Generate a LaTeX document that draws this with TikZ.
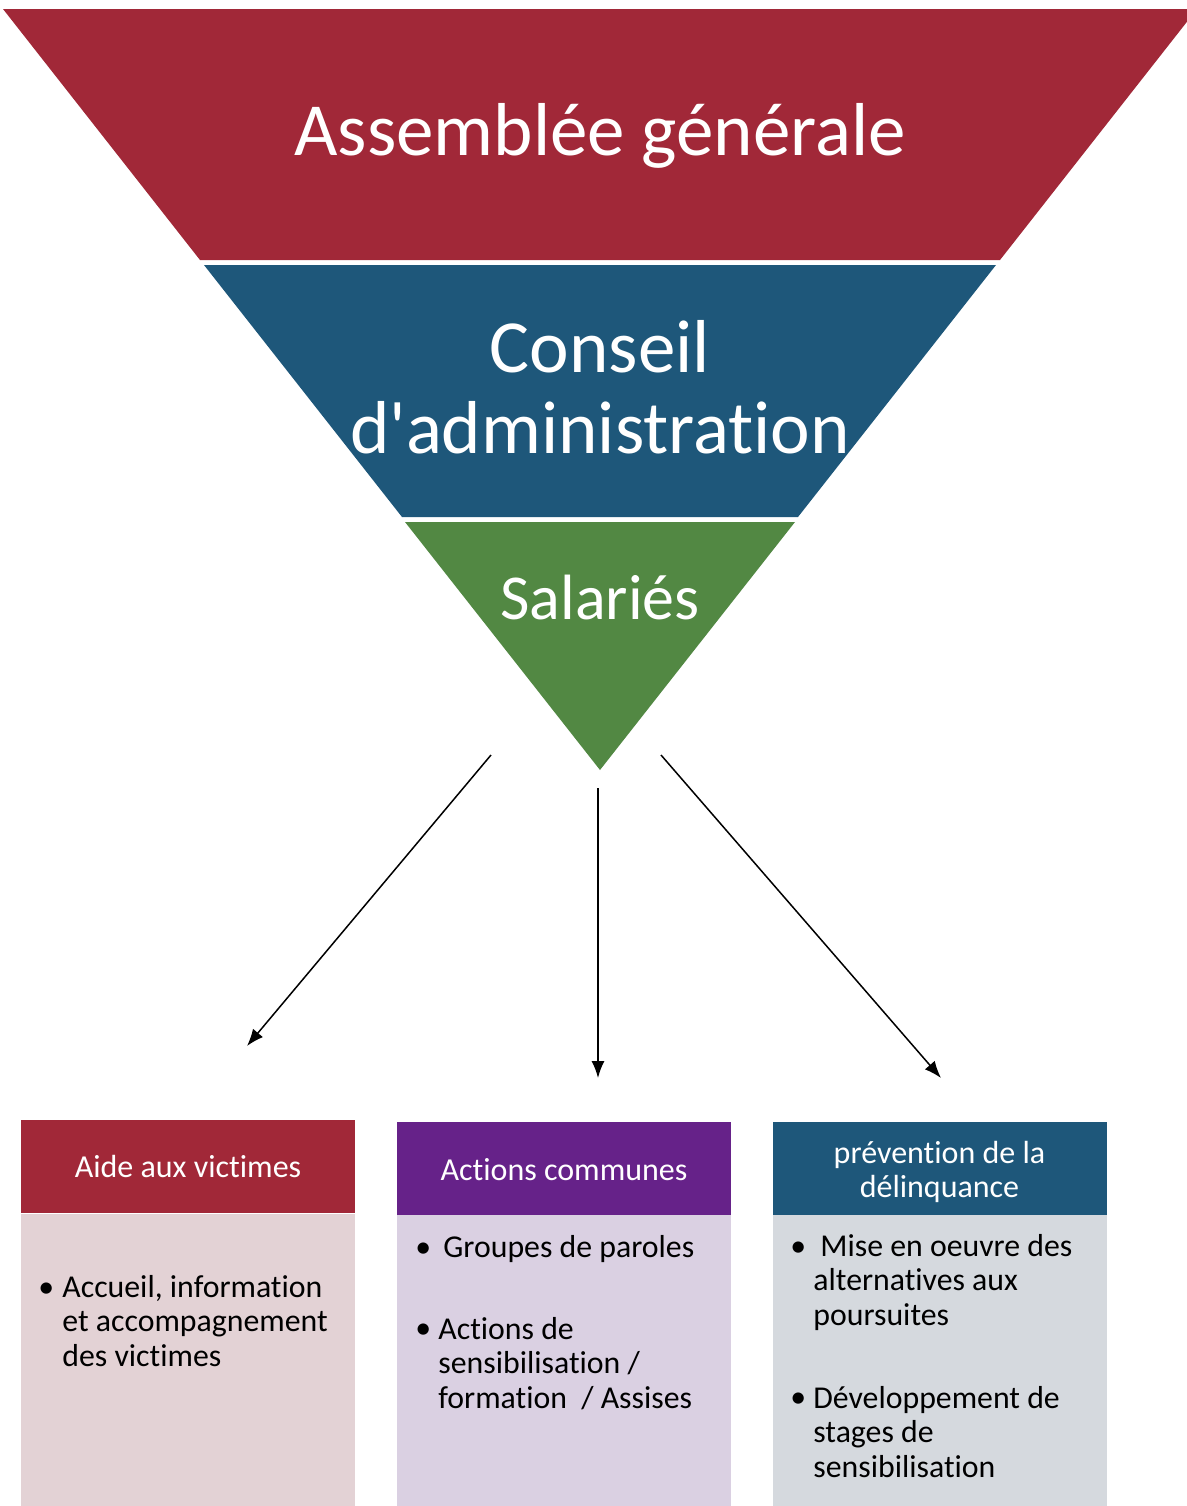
\documentclass[tikz,border=0pt]{standalone}
\usepackage{fontspec}
\setmainfont[Ligatures=NoCommon]{Carlito}
\usepackage{xcolor}
\usetikzlibrary{arrows.meta, positioning}
\definecolor{agred}{RGB}{161,40,56}
\definecolor{cablue}{RGB}{30,87,122}
\definecolor{salgreen}{RGB}{82,136,67}
\definecolor{acpurple}{RGB}{102,34,137}
\definecolor{aidebody}{RGB}{227,210,213}
\definecolor{actbody}{RGB}{218,208,226}
\definecolor{prevbody}{RGB}{213,217,222}
\tikzset{
    bandtext/.style={text=white, font=\fontsize{37.5}{40.5}\selectfont, align=center, inner sep=0pt},
    header/.style={rectangle, minimum width=167pt, minimum height=46.5pt, inner sep=0pt},
    headtext/.style={anchor=base, text=white, inner sep=0pt, align=center, font=\fontsize{16}{17}\selectfont},
    body/.style={rectangle, minimum width=167pt, minimum height=150pt, inner sep=0pt},
    bullet/.style={anchor=base west, inner sep=0pt, font=\fontsize{15.9}{17.25}\selectfont},
    item/.style={anchor=base west, inner sep=0pt, align=left, font=\fontsize{15.9}{17.25}\selectfont},
    arrow/.style={-{Latex[length=8.5pt,width=6.5pt]}, line width=0.75pt}
}
\begin{document}
\begin{tikzpicture}[x=0.5pt, y=-0.5pt]
    \useasboundingbox (0,0) rectangle (1187,1506);
    \clip (0,0) rectangle (1187,1506);

    % Inverted pyramid
    \fill[agred] (3,9) -- (1197,9) -- (1000,260) -- (200,260) -- cycle;
    \fill[cablue] (204,265) -- (996,265) -- (798,517) -- (402,517) -- cycle;
    \fill[salgreen] (405,522) -- (795,522) -- (600,770) -- cycle;

    \node[bandtext, anchor=base] (ag) at (600,155) {Assemblée générale};
    \node[bandtext, anchor=base] (ca) at (600,453) {Conseil\\d\textquotesingle administration};
    \node[bandtext, anchor=base, font=\fontsize{32}{34}\selectfont] (sal) at (600,619) {Salariés};

    % Boxes
    \node[header, fill=agred] (aide) at (188,1166.5) {};
    \node[body, fill=aidebody, below=0pt of aide] (aidebox) {};
    \node[headtext] (aidetitle) at (188,1177) {Aide aux victimes};
    \node[header, fill=acpurple] (actions) at (564,1168) {};
    \node[body, fill=actbody, below=0pt of actions] (actionsbox) {};
    \node[headtext] (actionstitle) at (564,1180) {Actions communes};
    \node[header, fill=cablue] (prev) at (939.5,1168) {};
    \node[body, fill=prevbody, below=0pt of prev] (prevbox) {};
    \node[headtext] (prevtitle) at (939.5,1197) {prévention de la\\délinquance};

    % Items
    \node[bullet] (b1) at (38,1297) {•};
    \node[item] (i1) at (62,1366) {Accueil, information\\et accompagnement\\des victimes};
    \node[bullet] (b2) at (415,1257) {•};
    \node[item] (i2) at (443,1257) {Groupes de paroles};
    \node[bullet] (b3) at (415,1338) {•};
    \node[item] (i3) at (438,1408) {Actions de\\sensibilisation /\\formation \ / Assises};
    \node[bullet] (b4) at (790,1256) {•};
    \node[item] (i4) at (820,1256) {Mise en oeuvre des};
    \node[item] (i5) at (813,1325) {alternatives aux\\poursuites};
    \node[bullet] (b5) at (790,1407) {•};
    \node[item] (i6) at (813,1477) {Développement de\\stages de\\sensibilisation};

    % Connections
    \coordinate (aidestart) at (491,755);
    \coordinate (aidetip) at (247,1046);
    \coordinate (actstart) at (598,788);
    \coordinate (acttip) at (598,1078);
    \coordinate (prevstart) at (661,755);
    \coordinate (prevtip) at (941,1078);
    \draw[arrow] (aidestart) -- (aidetip);
    \draw[arrow] (actstart) -- (acttip);
    \draw[arrow] (prevstart) -- (prevtip);
\end{tikzpicture}
\end{document}
